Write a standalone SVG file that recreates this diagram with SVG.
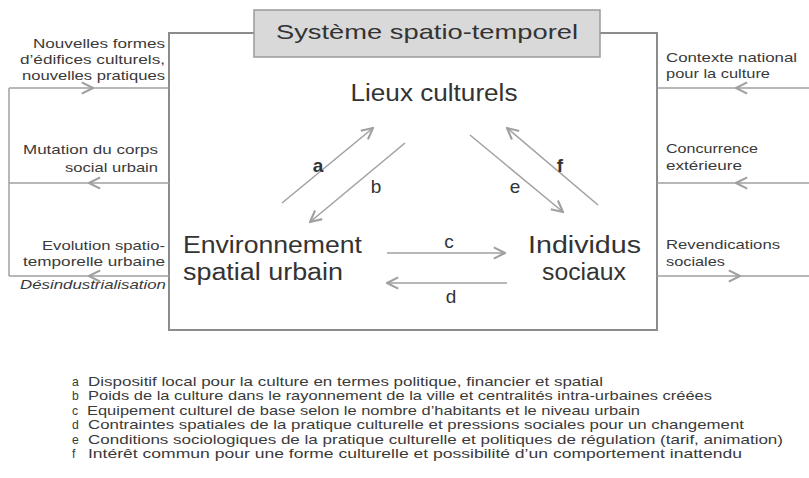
<svg xmlns="http://www.w3.org/2000/svg" width="809" height="478" viewBox="0 0 809 478">
<style>
.frame{fill:none;stroke:#8c8c8c;stroke-width:2}
.con{fill:none;stroke:#a0a0a0;stroke-width:1.5}
.side{font-family:"Liberation Sans",Arial,sans-serif;font-size:13px;fill:#3a3a3a}
.node{font-family:"Liberation Sans",Arial,sans-serif;font-size:23px;fill:#333}
.title{font-family:"Liberation Sans",Arial,sans-serif;font-size:21px;fill:#333}
.lab{font-family:"Liberation Sans",Arial,sans-serif;font-size:19px;fill:#333}
.leg{font-family:"Liberation Sans",Arial,sans-serif;font-size:12.2px;fill:#3a3a3a}
</style>
<defs>
<marker id="ah" markerUnits="userSpaceOnUse" markerWidth="14" markerHeight="14" refX="9" refY="5" orient="auto" viewBox="0 0 10 10">
<path d="M1,1 L9,5 L1,9" fill="none" stroke="#a0a0a0" stroke-width="1.5"/>
</marker>
</defs>
<rect width="809" height="478" fill="#fff"/>
<g id="frame">
<path class="frame" d="M254,33 H169 V330 H657 V33 H600"/>
</g>
<g id="title">
<rect x="254" y="10" width="346" height="47" fill="#d9d9d9" stroke="#9a9a9a" stroke-width="1.5"/>
<text class="title" x="427" y="39" text-anchor="middle" textLength="302" lengthAdjust="spacingAndGlyphs">Système  spatio-temporel</text>
</g>
<g id="connectors">
<path class="con" d="M9,88 L93,88 L169,88" marker-mid="url(#ah)"/>
<path class="con" d="M9,88 V276"/>
<path class="con" d="M169,183 L89,183 L9,183" marker-mid="url(#ah)"/>
<path class="con" d="M169,276 L89,276 L9,276" marker-mid="url(#ah)"/>
<path class="con" d="M809,88 L736,88 L657,88" marker-mid="url(#ah)"/>
<path class="con" d="M809,183 L736,183 L657,183" marker-mid="url(#ah)"/>
<path class="con" d="M657,276 L740,276 L809,276" marker-mid="url(#ah)"/>
<line class="con" x1="282" y1="203" x2="373" y2="128" marker-end="url(#ah)"/>
<line class="con" x1="405" y1="143" x2="310" y2="222" marker-end="url(#ah)"/>
<line class="con" x1="470" y1="135" x2="563" y2="212" marker-end="url(#ah)"/>
<line class="con" x1="598" y1="205" x2="507" y2="128" marker-end="url(#ah)"/>
<line class="con" x1="387" y1="253" x2="505" y2="253" marker-end="url(#ah)"/>
<line class="con" x1="507" y1="283" x2="387" y2="283" marker-end="url(#ah)"/>
<text class="lab" x="318" y="172" text-anchor="middle" font-weight="bold">a</text>
<text class="lab" x="376" y="193" text-anchor="middle">b</text>
<text class="lab" x="449" y="248" text-anchor="middle">c</text>
<text class="lab" x="451" y="303" text-anchor="middle">d</text>
<text class="lab" x="515" y="193" text-anchor="middle">e</text>
<text class="lab" x="560" y="172" text-anchor="middle" font-weight="bold">f</text>
</g>
<g id="lieux">
<text class="node" x="434" y="101" text-anchor="middle" textLength="167" lengthAdjust="spacingAndGlyphs">Lieux culturels</text>
</g>
<g id="environnement">
<text class="node" x="183" y="253" textLength="179" lengthAdjust="spacingAndGlyphs">Environnement</text>
<text class="node" x="183" y="280" textLength="160" lengthAdjust="spacingAndGlyphs">spatial urbain</text>
</g>
<g id="individus">
<text class="node" x="528" y="253" textLength="113" lengthAdjust="spacingAndGlyphs">Individus</text>
<text class="node" x="542" y="280" textLength="84" lengthAdjust="spacingAndGlyphs">sociaux</text>
</g>
<g id="left-labels" class="side" text-anchor="end">
<text x="165" y="48" textLength="132" lengthAdjust="spacingAndGlyphs">Nouvelles formes</text>
<text x="165" y="64" textLength="145" lengthAdjust="spacingAndGlyphs">d’édifices culturels,</text>
<text x="165" y="80" textLength="143" lengthAdjust="spacingAndGlyphs">nouvelles pratiques</text>
<text x="158" y="154" textLength="135" lengthAdjust="spacingAndGlyphs">Mutation du corps</text>
<text x="158" y="172" textLength="93" lengthAdjust="spacingAndGlyphs">social urbain</text>
<text x="165" y="250" textLength="123" lengthAdjust="spacingAndGlyphs">Evolution spatio-</text>
<text x="165" y="266" textLength="142" lengthAdjust="spacingAndGlyphs">temporelle urbaine</text>
<text x="166" y="289" font-style="italic" textLength="146" lengthAdjust="spacingAndGlyphs">Désindustrialisation</text>
</g>
<g id="right-labels" class="side">
<text x="666" y="62" textLength="131" lengthAdjust="spacingAndGlyphs">Contexte national</text>
<text x="666" y="78" textLength="104" lengthAdjust="spacingAndGlyphs">pour la culture</text>
<text x="666" y="153" textLength="92" lengthAdjust="spacingAndGlyphs">Concurrence</text>
<text x="666" y="170" textLength="76" lengthAdjust="spacingAndGlyphs">extérieure</text>
<text x="666" y="249" textLength="114" lengthAdjust="spacingAndGlyphs">Revendications</text>
<text x="666" y="266" textLength="59" lengthAdjust="spacingAndGlyphs">sociales</text>
</g>
<g id="legend" class="leg">
<text x="72" y="386">a</text><text x="88" y="386" textLength="515" lengthAdjust="spacingAndGlyphs">Dispositif local pour la culture en termes politique, financier et spatial</text>
<text x="72" y="400">b</text><text x="88" y="400" textLength="624" lengthAdjust="spacingAndGlyphs">Poids de la culture dans le rayonnement de la ville et centralités intra-urbaines créées</text>
<text x="72" y="415">c</text><text x="87" y="415" textLength="553" lengthAdjust="spacingAndGlyphs">Equipement culturel de base selon le nombre d’habitants et le niveau urbain</text>
<text x="72" y="429">d</text><text x="88" y="429" textLength="656" lengthAdjust="spacingAndGlyphs">Contraintes spatiales de la pratique culturelle et pressions sociales pour un changement</text>
<text x="72" y="444">e</text><text x="88" y="444" textLength="695" lengthAdjust="spacingAndGlyphs">Conditions sociologiques de la pratique culturelle et politiques de régulation (tarif, animation)</text>
<text x="72" y="458">f</text><text x="88" y="458" textLength="654" lengthAdjust="spacingAndGlyphs">Intérêt commun pour une forme culturelle et possibilité d’un comportement inattendu</text>
</g>
</svg>
